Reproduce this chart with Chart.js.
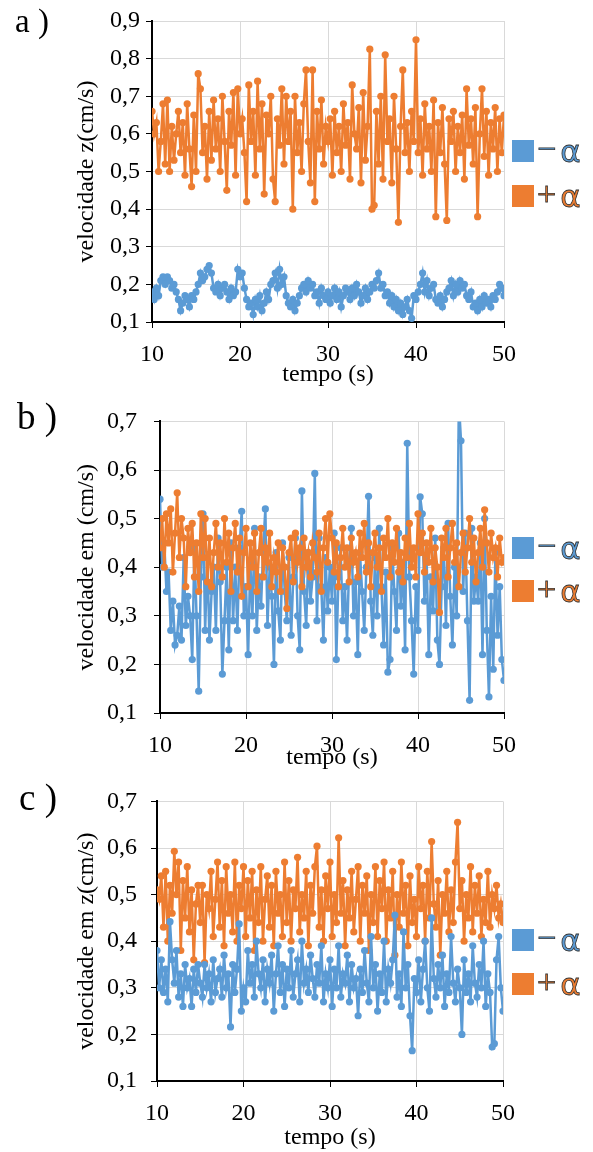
<!DOCTYPE html>
<html>
<head>
<meta charset="utf-8">
<script src="https://cdn.jsdelivr.net/npm/chart.js@4.4.0/dist/chart.umd.min.js"></script>
<style>
body{margin:0;background:#fff;}
#wrap{position:relative;width:593px;height:1152px;overflow:hidden;font-family:"Liberation Serif","Times New Roman",serif;background:#fff;}
canvas{position:absolute;left:0;}
.tag{position:absolute;line-height:1;color:#000;}
.key{position:absolute;left:512px;height:22px;display:flex;align-items:center;}
.key .sw{width:22px;height:22px;margin-right:3px;}
.key .sg{font-size:34px;-webkit-text-stroke:0.8px #333;line-height:22px;position:relative;top:-2px;}
.key .al{font-family:"DejaVu Sans";font-size:31px;-webkit-text-stroke:0.8px #333;line-height:22px;margin-left:4px;}
</style>
</head>
<body>
<div id="wrap">
  <canvas id="chartA" width="593" height="390" style="top:0px"></canvas>
  <canvas id="chartB" width="593" height="383" style="top:390px"></canvas>
  <canvas id="chartC" width="593" height="379" style="top:773px"></canvas>

  <div class="tag" style="left:15px;top:5px;font-size:33px">a )</div>
  <div class="tag" style="left:17px;top:398px;font-size:37px">b )</div>
  <div class="tag" style="left:19px;top:779px;font-size:37px">c )</div>

  <div class="key" style="top:140px"><div class="sw" style="background:#5B9BD5"></div><span class="sg" style="color:#5B9BD5">−</span><span class="al" style="color:#5B9BD5">α</span></div>
  <div class="key" style="top:185px"><div class="sw" style="background:#ED7D31"></div><span class="sg" style="color:#ED7D31">+</span><span class="al" style="color:#ED7D31">α</span></div>
  <div class="key" style="top:537px"><div class="sw" style="background:#5B9BD5"></div><span class="sg" style="color:#5B9BD5">−</span><span class="al" style="color:#5B9BD5">α</span></div>
  <div class="key" style="top:580px"><div class="sw" style="background:#ED7D31"></div><span class="sg" style="color:#ED7D31">+</span><span class="al" style="color:#ED7D31">α</span></div>
  <div class="key" style="top:929px"><div class="sw" style="background:#5B9BD5"></div><span class="sg" style="color:#5B9BD5">−</span><span class="al" style="color:#5B9BD5">α</span></div>
  <div class="key" style="top:973px"><div class="sw" style="background:#ED7D31"></div><span class="sg" style="color:#ED7D31">+</span><span class="al" style="color:#ED7D31">α</span></div>
</div>
<script>
// sampling: first time and step (s)
var tStart = 10;
var tStep = 0.25;

// a) velocidade z
var aMinus = [
  0.18,0.16,0.19,0.17,0.21,0.22,0.20,0.22,0.21,0.19,0.20,0.18,0.16,0.13,0.15,0.17,0.16,0.14,0.17,0.16,
  0.18,0.20,0.23,0.21,0.22,0.24,0.25,0.23,0.19,0.18,0.20,0.17,0.19,0.20,0.18,0.16,0.19,0.17,0.18,0.24,
  0.22,0.23,0.19,0.16,0.14,0.15,0.12,0.16,0.14,0.17,0.13,0.15,0.18,0.16,0.20,0.21,0.23,0.19,0.24,0.20,
  0.22,0.17,0.15,0.14,0.16,0.13,0.15,0.17,0.19,0.20,0.18,0.21,0.19,0.20,0.17,0.18,0.15,0.19,0.17,0.16,
  0.18,0.15,0.17,0.19,0.16,0.18,0.14,0.17,0.19,0.18,0.16,0.19,0.17,0.20,0.18,0.15,0.17,0.19,0.16,0.18,
  0.20,0.19,0.21,0.23,0.19,0.20,0.17,0.18,0.15,0.17,0.14,0.16,0.13,0.15,0.12,0.14,0.16,0.13,0.11,0.17,
  0.16,0.18,0.20,0.23,0.18,0.21,0.17,0.19,0.20,0.16,0.15,0.17,0.14,0.16,0.18,0.19,0.21,0.17,0.20,0.18,
  0.21,0.19,0.20,0.17,0.16,0.18,0.14,0.15,0.13,0.16,0.14,0.17,0.15,0.16,0.14,0.17,0.16,0.18,0.20,0.19,
  0.17
];
var aPlus = [
  0.66,0.60,0.63,0.50,0.58,0.68,0.52,0.69,0.50,0.62,0.53,0.60,0.66,0.55,0.63,0.49,0.68,0.56,0.46,0.65,
  0.50,0.76,0.72,0.55,0.62,0.48,0.66,0.53,0.69,0.56,0.64,0.50,0.70,0.58,0.45,0.66,0.57,0.71,0.49,0.72,
  0.60,0.64,0.55,0.42,0.73,0.58,0.66,0.49,0.74,0.56,0.68,0.44,0.65,0.60,0.70,0.48,0.42,0.64,0.57,0.72,
  0.52,0.70,0.58,0.66,0.40,0.70,0.55,0.63,0.50,0.68,0.77,0.58,0.47,0.77,0.42,0.66,0.56,0.69,0.52,0.62,
  0.58,0.64,0.49,0.66,0.55,0.62,0.50,0.68,0.57,0.63,0.48,0.73,0.60,0.56,0.67,0.47,0.71,0.53,0.62,0.825,
  0.40,0.41,0.66,0.52,0.70,0.48,0.81,0.58,0.64,0.47,0.70,0.56,0.365,0.62,0.77,0.55,0.63,0.50,0.66,0.58,
  0.85,0.55,0.64,0.49,0.68,0.56,0.62,0.50,0.69,0.38,0.63,0.55,0.67,0.52,0.37,0.64,0.58,0.66,0.50,0.62,
  0.55,0.65,0.48,0.72,0.57,0.64,0.52,0.67,0.38,0.60,0.72,0.54,0.66,0.49,0.63,0.56,0.67,0.50,0.64,0.55,
  0.65
];

// b) velocidade em (cm/s)
var bMinus = [
  0.54,0.40,0.45,0.35,0.39,0.27,0.33,0.24,0.26,0.32,0.25,0.42,0.28,0.34,0.30,0.21,0.44,0.30,0.145,0.38,
  0.51,0.27,0.42,0.25,0.35,0.40,0.27,0.46,0.37,0.18,0.29,0.40,0.23,0.45,0.29,0.40,0.27,0.44,0.515,0.30,
  0.36,0.22,0.41,0.30,0.48,0.27,0.38,0.32,0.44,0.52,0.28,0.40,0.34,0.20,0.43,0.31,0.25,0.45,0.35,0.29,
  0.42,0.26,0.38,0.46,0.30,0.23,0.557,0.35,0.28,0.43,0.33,0.38,0.593,0.29,0.46,0.36,0.25,0.42,0.31,0.40,
  0.33,0.47,0.21,0.38,0.44,0.29,0.36,0.25,0.41,0.48,0.30,0.37,0.22,0.43,0.35,0.27,0.40,0.546,0.33,0.26,
  0.42,0.30,0.48,0.36,0.24,0.39,0.184,0.21,0.44,0.35,0.27,0.47,0.32,0.41,0.23,0.655,0.38,0.29,0.18,0.36,
  0.27,0.545,0.51,0.33,0.42,0.22,0.38,0.31,0.46,0.25,0.20,0.36,0.44,0.28,0.49,0.34,0.24,0.40,0.30,0.74,
  0.66,0.35,0.47,0.29,0.126,0.48,0.33,0.38,0.33,0.45,0.22,0.50,0.27,0.133,0.34,0.19,0.43,0.26,0.36,0.21,
  0.167
];
var bPlus = [
  0.44,0.50,0.40,0.51,0.45,0.52,0.39,0.47,0.553,0.42,0.50,0.46,0.36,0.48,0.43,0.49,0.38,0.45,0.35,0.51,
  0.42,0.50,0.37,0.46,0.36,0.43,0.49,0.40,0.45,0.38,0.50,0.41,0.47,0.35,0.44,0.49,0.39,0.46,0.34,0.43,
  0.48,0.36,0.45,0.40,0.47,0.35,0.43,0.48,0.38,0.44,0.41,0.47,0.36,0.42,0.39,0.45,0.35,0.44,0.40,0.315,
  0.43,0.46,0.37,0.47,0.41,0.44,0.36,0.46,0.40,0.43,0.38,0.45,0.42,0.39,0.47,0.35,0.44,0.50,0.41,0.51,
  0.46,0.39,0.45,0.36,0.42,0.48,0.40,0.44,0.37,0.46,0.41,0.43,0.38,0.47,0.42,0.49,0.39,0.45,0.36,0.43,
  0.47,0.40,0.44,0.35,0.46,0.42,0.50,0.38,0.45,0.41,0.48,0.39,0.43,0.37,0.46,0.42,0.49,0.40,0.44,0.38,
  0.51,0.43,0.47,0.39,0.45,0.41,0.48,0.37,0.44,0.40,0.307,0.46,0.42,0.48,0.38,0.44,0.49,0.41,0.45,0.36,
  0.43,0.47,0.39,0.44,0.50,0.41,0.46,0.37,0.43,0.48,0.40,0.518,0.45,0.39,0.47,0.42,0.44,0.38,0.46,0.41,
  0.42
];

// c) velocidade em z
var cMinus = [
  0.38,0.30,0.36,0.29,0.34,0.27,0.442,0.36,0.31,0.38,0.28,0.33,0.26,0.35,0.30,0.32,0.26,0.34,0.29,0.35,
  0.31,0.28,0.35,0.30,0.33,0.27,0.36,0.29,0.32,0.34,0.28,0.37,0.30,0.33,0.216,0.35,0.29,0.34,0.437,0.25,
  0.30,0.27,0.38,0.31,0.35,0.28,0.40,0.33,0.30,0.36,0.27,0.34,0.31,0.37,0.25,0.33,0.39,0.29,0.35,0.26,
  0.34,0.30,0.38,0.28,0.33,0.36,0.27,0.40,0.31,0.34,0.29,0.37,0.32,0.28,0.35,0.31,0.39,0.27,0.33,0.30,
  0.36,0.26,0.34,0.30,0.39,0.28,0.33,0.31,0.37,0.27,0.35,0.30,0.32,0.24,0.34,0.29,0.38,0.31,0.27,0.41,
  0.30,0.35,0.25,0.33,0.29,0.40,0.27,0.34,0.31,0.36,0.456,0.28,0.33,0.26,0.42,0.30,0.35,0.24,0.165,0.32,
  0.29,0.36,0.27,0.34,0.40,0.30,0.25,0.45,0.32,0.28,0.35,0.30,0.37,0.26,0.33,0.29,0.41,0.31,0.27,0.34,
  0.30,0.20,0.36,0.29,0.33,0.27,0.39,0.31,0.28,0.35,0.30,0.40,0.26,0.33,0.29,0.173,0.18,0.36,0.41,0.30,
  0.25
];
var cPlus = [
  0.51,0.49,0.54,0.43,0.55,0.40,0.52,0.46,0.593,0.50,0.57,0.38,0.53,0.45,0.56,0.42,0.51,0.36,0.48,0.52,
  0.44,0.52,0.354,0.50,0.47,0.55,0.41,0.49,0.57,0.43,0.53,0.39,0.56,0.46,0.50,0.42,0.57,0.40,0.52,0.47,
  0.56,0.41,0.53,0.45,0.55,0.38,0.51,0.44,0.56,0.40,0.49,0.54,0.43,0.52,0.39,0.55,0.46,0.50,0.41,0.57,
  0.44,0.53,0.40,0.51,0.47,0.58,0.42,0.50,0.45,0.55,0.39,0.52,0.46,0.56,0.604,0.43,0.51,0.40,0.54,0.47,
  0.57,0.41,0.50,0.44,0.622,0.46,0.53,0.39,0.51,0.45,0.55,0.42,0.49,0.56,0.40,0.52,0.46,0.54,0.38,0.50,
  0.44,0.56,0.41,0.53,0.47,0.57,0.40,0.51,0.45,0.55,0.37,0.50,0.43,0.57,0.46,0.52,0.39,0.54,0.44,0.49,
  0.41,0.56,0.47,0.52,0.40,0.55,0.45,0.614,0.48,0.43,0.53,0.37,0.50,0.46,0.55,0.42,0.51,0.44,0.57,0.655,
  0.47,0.53,0.40,0.50,0.45,0.56,0.42,0.52,0.46,0.54,0.41,0.49,0.44,0.55,0.43,0.50,0.47,0.52,0.45,0.48,
  0.44
];

var blue = "#5B9BD5";
var orange = "#ED7D31";
var serif = "'Liberation Serif', 'Times New Roman', serif";

function toPoints(vals){
    var out = [];
    for(var i = 0; i < vals.length; i ++){
        out.push({x: tStart + i * tStep, y: vals[i]});
    }
    return out;
}

function series(label, vals, color, order){
    return {
        label: label,
        data: toPoints(vals),
        borderColor: color,
        backgroundColor: color,
        borderWidth: 2.5,
        pointRadius: 3.6,
        pointBorderWidth: 0,
        tension: 0,
        order: order
    };
}

function panel(id, minus, plus, o){
    var font = {family: serif, size: 24};
    new Chart(document.getElementById(id).getContext('2d'), {
        type: 'line',
        data: {
            datasets: [
                series('− α', minus, blue, o.blueOrder),
                series('+ α', plus, orange, 1 - o.blueOrder)
            ]
        },
        options: {
            responsive: false,
            animation: false,
            layout: {padding: {left: 72, right: o.right, top: o.top, bottom: 0}},
            plugins: {legend: {display: false}, tooltip: {enabled: false}},
            scales: {
                x: {
                    type: 'linear', min: 10, max: 50,
                    ticks: {stepSize: 10, padding: 12, color: '#000', font: font, maxRotation: 0},
                    grid: {color: '#D9D9D9', tickColor: '#000', tickLength: 6},
                    border: {color: '#000', width: 2},
                    title: {display: true, text: 'tempo (s)', color: '#000', font: font, padding: {top: 0, bottom: o.titlePad}},
                    afterFit: function(s){ s.height = o.xh; }
                },
                y: {
                    min: o.ymin, max: o.ymax,
                    ticks: {
                        stepSize: 0.1, padding: o.ypad, color: '#000', font: font,
                        callback: function(v){ return v.toFixed(1).replace('.', ','); }
                    },
                    grid: {color: '#D9D9D9', tickColor: '#000', tickLength: 6},
                    border: {color: '#000', width: 2},
                    title: {display: true, text: o.ytitle, color: '#000', font: font, padding: 0},
                    afterFit: function(s){ s.width = o.yw; }
                }
            }
        }
    });
}

panel('chartA', aMinus, aPlus, {ymin: 0.1, ymax: 0.9, top: 21, right: 89, yw: 80, xh: 68, ypad: 6, titlePad: 1, blueOrder: 1, ytitle: 'velocidade z(cm/s)'});
panel('chartB', bMinus, bPlus, {ymin: 0.1, ymax: 0.7, top: 19, right: 89, yw: 88, xh: 60, ypad: 17, titlePad: 1, blueOrder: 1, ytitle: 'velocidade em (cm/s)'});
panel('chartC', cMinus, cPlus, {ymin: 0.1, ymax: 0.7, top: 14, right: 90, yw: 85, xh: 71, ypad: 14, titlePad: 0, blueOrder: 0, ytitle: 'velocidade em z(cm/s)'});
</script>
</body>
</html>
